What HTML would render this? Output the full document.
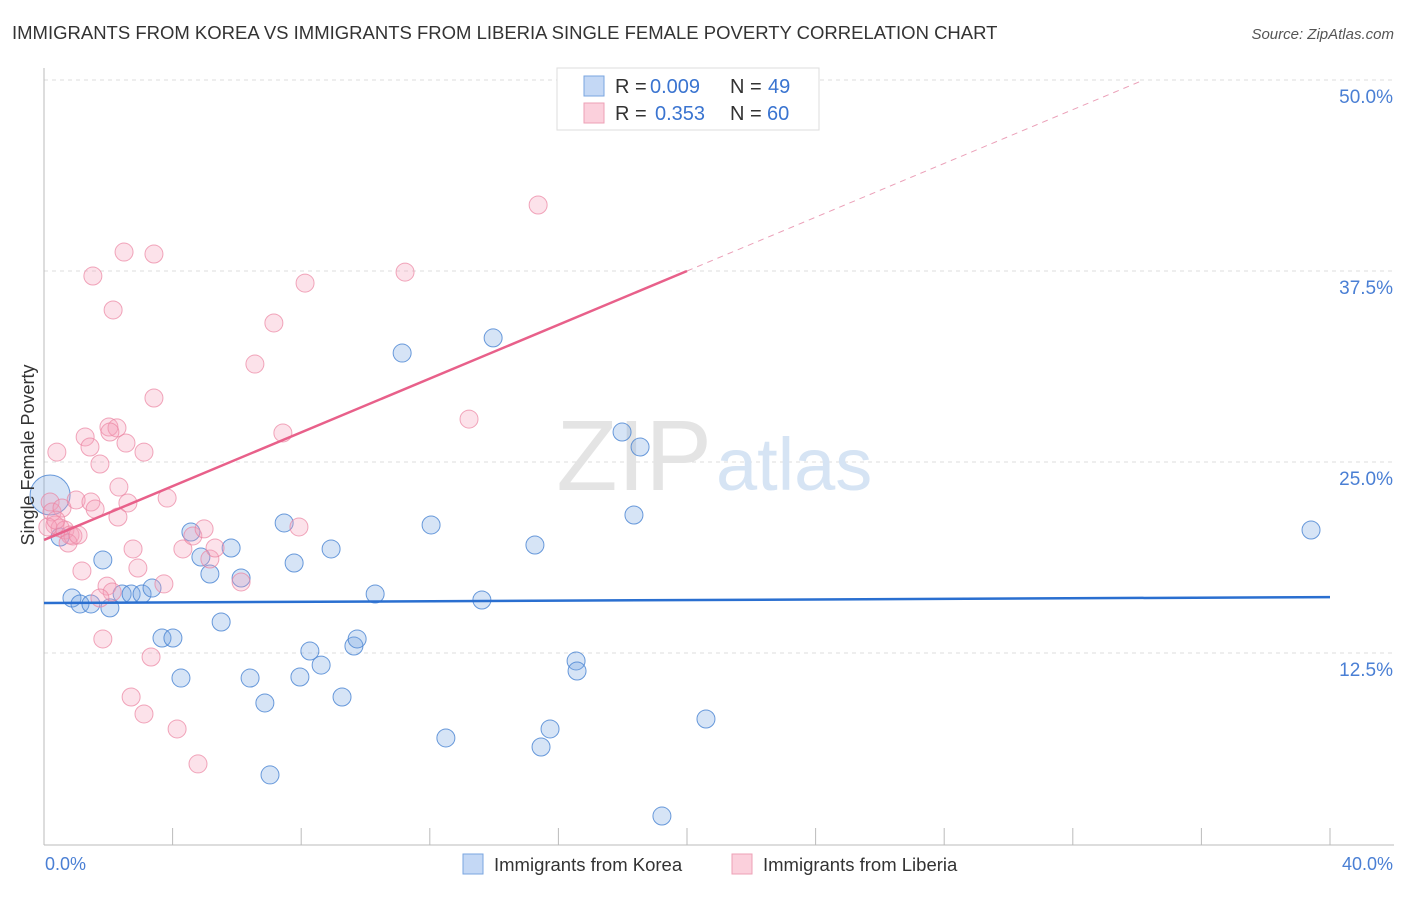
<!DOCTYPE html>
<html><head><meta charset="utf-8"><style>
body{margin:0;background:#fff;font-family:"Liberation Sans",sans-serif}
svg text{font-family:"Liberation Sans",sans-serif}
</style></head><body>
<svg width="1406" height="892">
<text x="12" y="39" font-size="18.5" fill="#333">IMMIGRANTS FROM KOREA VS IMMIGRANTS FROM LIBERIA SINGLE FEMALE POVERTY CORRELATION CHART</text>
<text x="1394" y="39" font-size="15" fill="#555" text-anchor="end" font-style="italic">Source: ZipAtlas.com</text>
<g id="grid"></g>
<text x="712" y="490" font-size="100" fill="#e4e4e4" text-anchor="end" font-family="Liberation Serif">ZIP</text>
<text x="716" y="490" font-size="74" fill="#d6e4f4">atlas</text>
<g id="marks"></g>
<text x="34" y="455" font-size="18" fill="#333" text-anchor="middle" transform="rotate(-90 34 455)">Single Female Poverty</text>
<text x="45" y="870" font-size="18" fill="#4a7fd4">0.0%</text>
<text x="1393" y="870" font-size="18" fill="#4a7fd4" text-anchor="end">40.0%</text>
<g>
<rect x="557" y="68" width="262" height="62" fill="#fff" stroke="#ddd"/>
<rect x="584" y="76" width="20" height="20" fill="#c4d8f5" stroke="#7aa6e0"/>
<rect x="584" y="103" width="20" height="20" fill="#fbd0dc" stroke="#eea0b6"/>
<text x="615" y="93" font-size="20" fill="#333">R =</text>
<text x="650" y="93" font-size="20" fill="#3a74d0">0.009</text>
<text x="730" y="93" font-size="20" fill="#333">N =</text>
<text x="768" y="93" font-size="20" fill="#3a74d0">49</text>
<text x="615" y="120" font-size="20" fill="#333">R =</text>
<text x="655" y="120" font-size="20" fill="#3a74d0">0.353</text>
<text x="730" y="120" font-size="20" fill="#333">N =</text>
<text x="767" y="120" font-size="20" fill="#3a74d0">60</text>
</g>
<g>
<rect x="463" y="854" width="20" height="20" fill="#c4d8f5" stroke="#7aa6e0"/>
<text x="494" y="871" font-size="18.5" fill="#333">Immigrants from Korea</text>
<rect x="732" y="854" width="20" height="20" fill="#fbd0dc" stroke="#eea0b6"/>
<text x="763" y="871" font-size="18.5" fill="#333">Immigrants from Liberia</text>
</g>
</svg>
<script>
const yTicks=[12.5,25,37.5,50];
const xTicks=[0,4,8,12,16,20,24,28,32,36,40];
const koreaX=[0.19,0.50,1.83,0.87,1.12,1.46,2.05,2.43,2.71,3.05,3.36,3.67,4.01,4.26,4.57,4.88,5.16,5.51,5.82,6.13,6.41,6.87,7.03,7.47,7.78,7.96,8.27,8.62,8.93,9.27,9.64,9.74,10.30,11.14,12.04,12.50,13.62,13.97,15.27,15.46,15.74,16.55,16.58,17.98,18.35,18.54,19.22,20.59,39.41];
const koreaY=[22.84,20.09,18.59,16.10,15.71,15.71,15.45,16.36,16.36,16.36,16.75,13.48,13.48,10.86,20.42,18.78,17.67,14.53,19.37,17.41,10.86,9.23,4.52,21.01,18.39,10.93,12.63,11.71,19.31,9.62,12.96,13.42,16.36,32.13,20.88,6.94,15.97,33.12,19.57,6.35,7.53,11.98,11.32,26.96,21.53,25.98,1.83,8.18,20.55];
const liberiaX=[0.40,0.19,0.25,0.34,0.50,0.65,0.81,0.90,0.75,0.56,1.06,1.18,1.00,1.28,1.43,1.52,1.46,1.59,1.74,1.83,1.96,2.15,2.02,2.27,2.30,2.33,2.49,2.55,2.61,2.71,2.77,2.92,3.11,3.11,3.33,3.42,3.42,3.73,3.83,4.14,4.32,4.63,4.79,4.98,5.16,5.32,6.13,6.56,7.15,7.43,7.93,8.12,11.23,13.22,15.37,2.12,1.74,0.12,0.37,2.05];
const liberiaY=[25.65,22.38,21.73,20.88,20.68,20.55,20.22,20.16,19.70,21.99,20.22,17.87,22.51,26.64,25.98,37.17,22.38,21.92,24.87,13.42,16.88,34.95,27.29,27.23,21.40,23.36,38.74,26.24,22.32,9.62,19.31,18.06,8.51,25.65,12.24,29.19,38.61,17.02,22.64,7.53,19.31,20.16,5.24,20.62,18.65,19.37,17.15,31.41,34.10,26.90,20.75,36.71,37.43,27.81,41.82,16.49,16.10,20.75,21.20,26.96];
const koreaTrend=[15.77,16.16];
const liberiaTrend=[19.9,37.5,50];
const X=v=>44+v*(1286/40), Y=v=>844-v*(764/50);
const NS='http://www.w3.org/2000/svg';
function mk(tag,attrs,parent){const e=document.createElementNS(NS,tag);for(const k in attrs)e.setAttribute(k,attrs[k]);parent.appendChild(e);return e;}
const grid=document.getElementById('grid'),marks=document.getElementById('marks');
yTicks.forEach(t=>{
 const l=mk('line',{x1:44,x2:1394,y1:Y(t),y2:Y(t),stroke:'#ddd','stroke-dasharray':'4,4'},grid);
 
 
 const tx=mk('text',{x:1393,y:Y(t)+23,'font-size':19,fill:'#4a7fd4','text-anchor':'end'},grid);
 tx.textContent=t.toFixed(1)+'%';
 
 
});
const ax=mk('line',{x1:44,x2:44,y1:68,y2:845,stroke:'#bbb'},grid);


const bx=mk('line',{x1:44,x2:1394,y1:845,y2:845,stroke:'#bbb'},grid);


xTicks.forEach(t=>{
 const l=mk('line',{x1:X(t),x2:X(t),y1:828,y2:845,stroke:'#bbb'},grid);
 
 
});
koreaX.forEach((v,i)=>{
 const c=mk('circle',{cx:X(v),cy:Y(koreaY[i]),r:i===0?20:9,fill:'rgba(120,165,225,0.3)',stroke:'rgba(70,130,210,0.8)','stroke-width':1},marks);
 
 
});
liberiaX.forEach((v,i)=>{
 const c=mk('circle',{cx:X(v),cy:Y(liberiaY[i]),r:9,fill:'rgba(245,160,185,0.3)',stroke:'rgba(235,130,160,0.7)','stroke-width':1},marks);
 
 
});
const kt=mk('line',{x1:X(0),y1:Y(koreaTrend[0]),x2:X(40),y2:Y(koreaTrend[1]),stroke:'#2a6fd0','stroke-width':2.5},marks);


const slope=(liberiaTrend[1]-liberiaTrend[0])/20;
const lt=mk('line',{x1:X(0),y1:Y(liberiaTrend[0]),x2:X(20),y2:Y(liberiaTrend[1]),stroke:'#e8608a','stroke-width':2.5},marks);


const xEnd=(liberiaTrend[2]-liberiaTrend[0])/slope;
const ld=mk('line',{x1:X(20),y1:Y(liberiaTrend[1]),x2:X(xEnd),y2:Y(liberiaTrend[2]),stroke:'#eba0b8','stroke-width':1,'stroke-dasharray':'6,5'},marks);


</script>
</body></html>
